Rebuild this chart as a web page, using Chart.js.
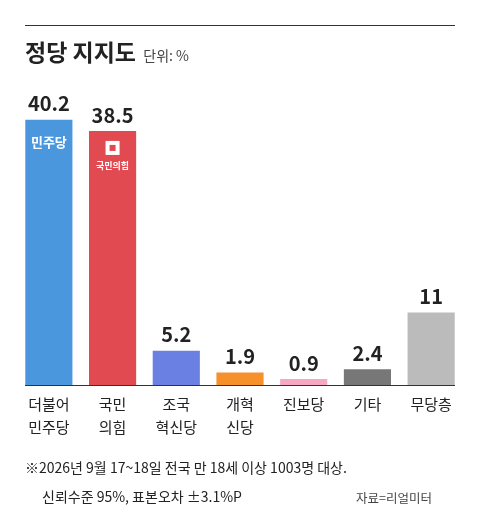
<!DOCTYPE html><html><head><meta charset="utf-8">
<script src="https://cdn.jsdelivr.net/npm/chart.js@4"></script>
<style>body{margin:0;background:#fff;font-family:"Noto Sans CJK KR","Noto Sans",sans-serif}
#w{position:relative;width:480px;height:529px}
canvas{position:absolute;left:0;top:0}
.t{position:absolute;white-space:nowrap;color:#222}
</style></head><body><div id="w">
<canvas id="c" width="480" height="529"></canvas>
<div style="position:absolute;left:25px;top:25px;width:430px;height:1px;background:#333"></div>
<div class="t" style="left:25px;top:34px;font-size:23px;font-weight:700">정당 지지도 <span style="font-size:14px;font-weight:400;color:#444;margin-left:2px">단위: %</span></div>
<div class="t" style="left:25px;top:457px;font-size:14px">※2026년 9월 17~18일 전국 만 18세 이상 1003명 대상.</div>
<div class="t" style="left:42px;top:486px;font-size:14px">신뢰수준 95%, 표본오차 ±3.1%P</div>
<div class="t" style="left:356px;top:488px;font-size:12.5px;color:#444">자료=리얼미터</div>
</div>
<script>
const categories=[["더불어","민주당"],["국민","의힘"],["조국","혁신당"],["개혁","신당"],["진보당"],["기타"],["무당층"]];
const values=[40.2,38.5,5.2,1.9,0.9,2.4,11];
const colors=["#4a97de","#e24a52","#6b80e3","#f5902a","#f7a8c0","#777777","#bbbbbb"];
const font='"Noto Sans CJK KR","Noto Sans",sans-serif';
const deco={id:'deco',afterDatasetsDraw(ch){
 const ctx=ch.ctx,m=ch.getDatasetMeta(0),y0=ch.scales.y.getPixelForValue(0);
 ctx.save();ctx.strokeStyle='#333';ctx.lineWidth=1;ctx.beginPath();ctx.moveTo(25,y0+0.5);ctx.lineTo(455,y0+0.5);ctx.stroke();
 m.data.forEach((b,i)=>{
  ctx.fillStyle='#222';ctx.textAlign='center';ctx.textBaseline='bottom';
  ctx.font='700 20px '+font;ctx.fillText(String(values[i]),b.x,b.y-6);
  ctx.font='15px '+font;ctx.textBaseline='top';
  categories[i].forEach((l,j)=>ctx.fillText(l,b.x,y0+12+j*23));
 });
 ctx.fillStyle='#fff';ctx.textBaseline='middle';
 let b=m.data[0];ctx.font='700 13px '+font;ctx.fillText('민주당',b.x,b.y+22);
 b=m.data[1];ctx.fillRect(b.x-7,b.y+10,14,14);ctx.font='700 9px '+font;ctx.fillText('국민의힘',b.x,b.y+35);
 ctx.fillStyle=colors[1];ctx.fillRect(b.x-3,b.y+14,6,6);
 ctx.restore();}};
new Chart(document.getElementById('c'),{type:'bar',
 data:{labels:categories,datasets:[{data:values,backgroundColor:colors,categoryPercentage:1,barPercentage:0.74}]},
 options:{responsive:false,animation:false,events:[],layout:{padding:{top:90,left:17,right:17,bottom:144}},
  plugins:{legend:{display:false},tooltip:{enabled:false}},
  scales:{x:{display:false},y:{display:false,min:0,max:44.7}}},
 plugins:[deco]});
</script></body></html>
